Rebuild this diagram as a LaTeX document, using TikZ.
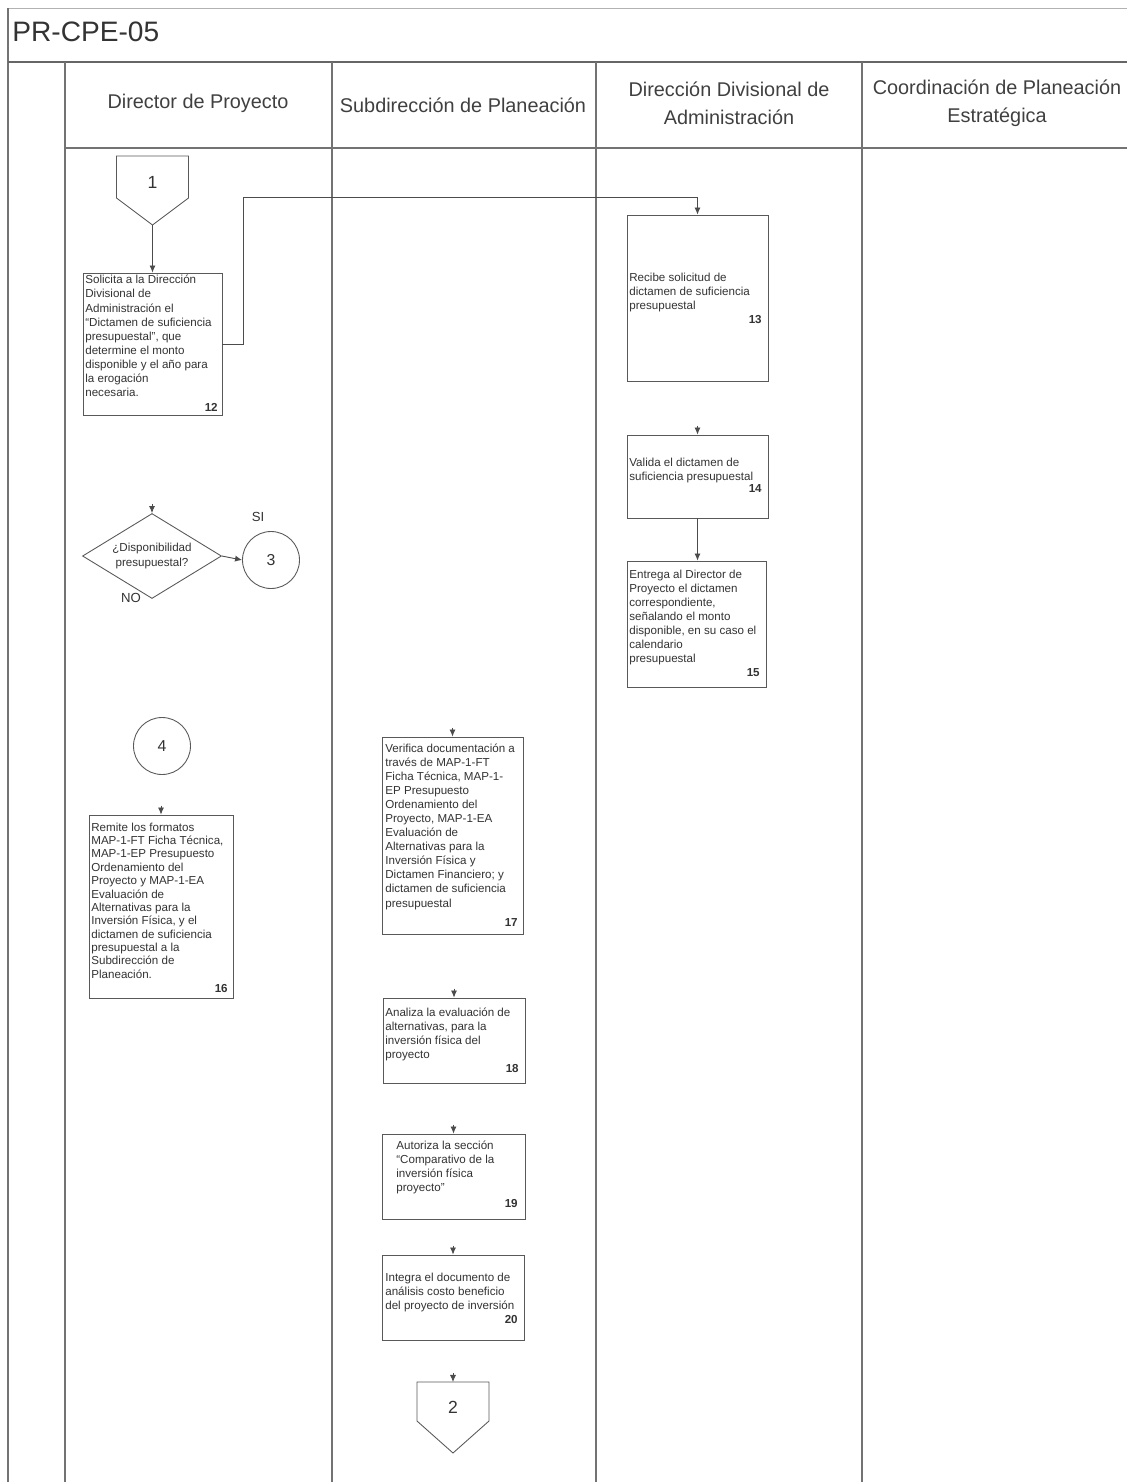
\documentclass[tikz,border=0pt]{standalone}
\usepackage{fontspec}
\setmainfont{Liberation Sans}
\usetikzlibrary{shapes.geometric,arrows.meta,fit,calc}
\begin{document}
\begin{tikzpicture}[x=0.02cm,y=-0.02cm,
  lane/.style={draw=black!55, line width=0.7pt},
  faint/.style={draw=black!30, line width=0.5pt},
  boxshape/.style={draw=black!65, line width=0.5pt, inner sep=0pt},
  btext/.style={anchor=north west, inner sep=0pt, align=left, font=\fontsize{6.6}{8}\selectfont, text=black!80},
  bnum/.style={anchor=east, inner sep=0pt, font=\fontsize{6.6}{8}\selectfont\bfseries, text=black!80},
  conn/.style={draw=black!70, line width=0.5pt, -{Latex[length=4pt,width=3.5pt]}},
  hdr/.style={font=\fontsize{11.3}{16}\selectfont, text=black!75, align=center},
  circ/.style={circle, draw=black!65, line width=0.5pt, minimum size=1.14cm, inner sep=0pt, font=\fontsize{9}{10}\selectfont, text=black!80},
  lbl/.style={font=\fontsize{7.5}{9}\selectfont, text=black!80, inner sep=0pt},
]
\useasboundingbox (0,0) rectangle (1127,1482);
\fill[white] (0,0) rectangle (1127,1482);

% frame and lanes
\draw[faint] (8,8) -- (1127,8);
\draw[lane] (8,8) -- (8,1482);
\draw[draw=black!60, line width=1pt] (8,62) -- (1127,62);
\draw[lane] (65,62) -- (65,1482);
\draw[lane] (332,62) -- (332,1482);
\draw[lane] (596,62) -- (596,1482);
\draw[lane] (862,62) -- (862,1482);
\draw[lane] (65,148) -- (1127,148);

\node[anchor=west, inner sep=0pt, font=\fontsize{16}{18}\selectfont, text=black!80] (title) at (12,32) {PR-CPE-05};
\node[hdr] (h1) at (198,103) {Director de Proyecto};
\node[hdr] (h2) at (463,105) {Subdirección de Planeación};
\node[hdr] (h3) at (729,103) {Dirección Divisional de\\Administración};
\node[hdr] (h4) at (997,103) {Coordinación de Planeación\\Estratégica};

% off-page connector 1
\draw[draw=black!65, line width=0.5pt] (116.5,156) -- (188.5,156) -- (188.5,198) -- (152.5,225) -- (116.5,198) -- cycle;
\node[font=\fontsize{10}{12}\selectfont, text=black!80] (c1) at (152.5,182) {1};
\coordinate (c1tip) at (152.5,225);

% box 12
\node[boxshape, fit={(83,273) (222,415)}] (b12) {};
\node[btext] (t12) at (85,275) {Solicita a la Dirección\\Divisional de\\Administración el\\“Dictamen de suficiencia\\presupuestal”, que\\determine el monto\\disponible y el año para\\la erogación\\necesaria.};
\node[bnum] (n12) at (218,407) {12};

% box 13
\node[boxshape, fit={(627,215) (768,381)}] (b13) {};
\node[btext] (t13) at (629,272.5) {Recibe solicitud de\\dictamen de suficiencia\\presupuestal};
\node[bnum] (n13) at (762,320) {13};

% box 14
\node[boxshape, fit={(627,435) (768,518)}] (b14) {};
\node[btext] (t14) at (629,457.5) {Valida el dictamen de\\suficiencia presupuestal};
\node[bnum] (n14) at (762,488) {14};

% box 15
\node[boxshape, fit={(627,561) (766,687)}] (b15) {};
\node[btext] (t15) at (629,569.5) {Entrega al Director de\\Proyecto el dictamen\\correspondiente,\\señalando el monto\\disponible, en su caso el\\calendario\\presupuestal};
\node[bnum] (n15) at (760,673) {15};

% decision
\node[diamond, aspect=2, draw=black!65, line width=0.5pt, minimum width=2.78cm, minimum height=1.7cm, inner sep=0pt, align=center, font=\fontsize{6.6}{8}\selectfont, text=black!80] (d1) at (152,556) {¿Disponibilidad\\presupuestal?};
\node[circ] (c3) at (271,560) {3};
\node[lbl] (si) at (258,517) {SI};
\node[lbl] (no) at (131,598) {NO};

% connector 4
\node[circ] (c4) at (162,746) {4};

% box 16
\node[boxshape, fit={(89,815) (233,998)}] (b16) {};
\node[btext, font=\fontsize{6.6}{7.6}\selectfont] (t16) at (91,822.5) {Remite los formatos\\MAP-1-FT Ficha Técnica,\\MAP-1-EP Presupuesto\\Ordenamiento del\\Proyecto y MAP-1-EA\\Evaluación de\\Alternativas para la\\Inversión Física, y el\\dictamen de suficiencia\\presupuestal a la\\Subdirección de\\Planeación.};
\node[bnum] (n16) at (228,988) {16};

% box 17
\node[boxshape, fit={(382,737) (523,934)}] (b17) {};
\node[btext] (t17) at (385,743.5) {Verifica documentación a\\través de MAP-1-FT\\Ficha Técnica, MAP-1-\\EP Presupuesto\\Ordenamiento del\\Proyecto, MAP-1-EA\\Evaluación de\\Alternativas para la\\Inversión Física y\\Dictamen Financiero; y\\dictamen de suficiencia\\presupuestal};
\node[bnum] (n17) at (518,922) {17};

% box 18
\node[boxshape, fit={(383,998) (525,1083)}] (b18) {};
\node[btext] (t18) at (385,1007.5) {Analiza la evaluación de\\alternativas, para la\\inversión física del\\proyecto};
\node[bnum] (n18) at (519,1068) {18};

% box 19
\node[boxshape, fit={(382,1134) (525,1219)}] (b19) {};
\node[btext] (t19) at (396,1140.5) {Autoriza la sección\\“Comparativo de la\\inversión física\\proyecto”};
\node[bnum] (n19) at (518,1203) {19};

% box 20
\node[boxshape, fit={(382,1255) (524,1340)}] (b20) {};
\node[btext] (t20) at (385,1272.5) {Integra el documento de\\análisis costo beneficio\\del proyecto de inversión};
\node[bnum] (n20) at (518,1319) {20};

% off-page connector 2
\draw[draw=black!65, line width=0.5pt] (417,1382) -- (489,1382) -- (489,1421) -- (453,1453) -- (417,1421) -- cycle;
\node[font=\fontsize{10}{12}\selectfont, text=black!80] (c2) at (453,1407) {2};
\coordinate (c2top) at (453,1382);

% connectors
\draw[conn] (c1tip) -- (b12.north);
\coordinate (fb) at (243,197);
\draw[conn] (b12.east) -- (b12.east -| fb) -- (fb) -- (fb -| b13.north) -- (b13.north);
\draw[conn] (b14.south) -- (b14.south |- b15.north);
\draw[conn] (d1.east) -- (c3.west);

% arrow stubs above shapes
\coordinate (s14) at ($(b14.north)+(0,-9)$);
\draw[conn] (s14) -- (b14.north);
\coordinate (sd1) at ($(d1.north)+(0,-9)$);
\draw[conn] (sd1) -- (d1.north);
\coordinate (s16) at ($(b16.north)+(0,-9)$);
\draw[conn] (s16) -- (b16.north);
\coordinate (s17) at ($(b17.north)+(0,-9)$);
\draw[conn] (s17) -- (b17.north);
\coordinate (s18) at ($(b18.north)+(0,-9)$);
\draw[conn] (s18) -- (b18.north);
\coordinate (s19) at ($(b19.north)+(0,-9)$);
\draw[conn] (s19) -- (b19.north);
\coordinate (s20) at ($(b20.north)+(0,-9)$);
\draw[conn] (s20) -- (b20.north);
\coordinate (sc2) at ($(c2top)+(0,-9)$);
\draw[conn] (sc2) -- (c2top);
\end{tikzpicture}
\end{document}
